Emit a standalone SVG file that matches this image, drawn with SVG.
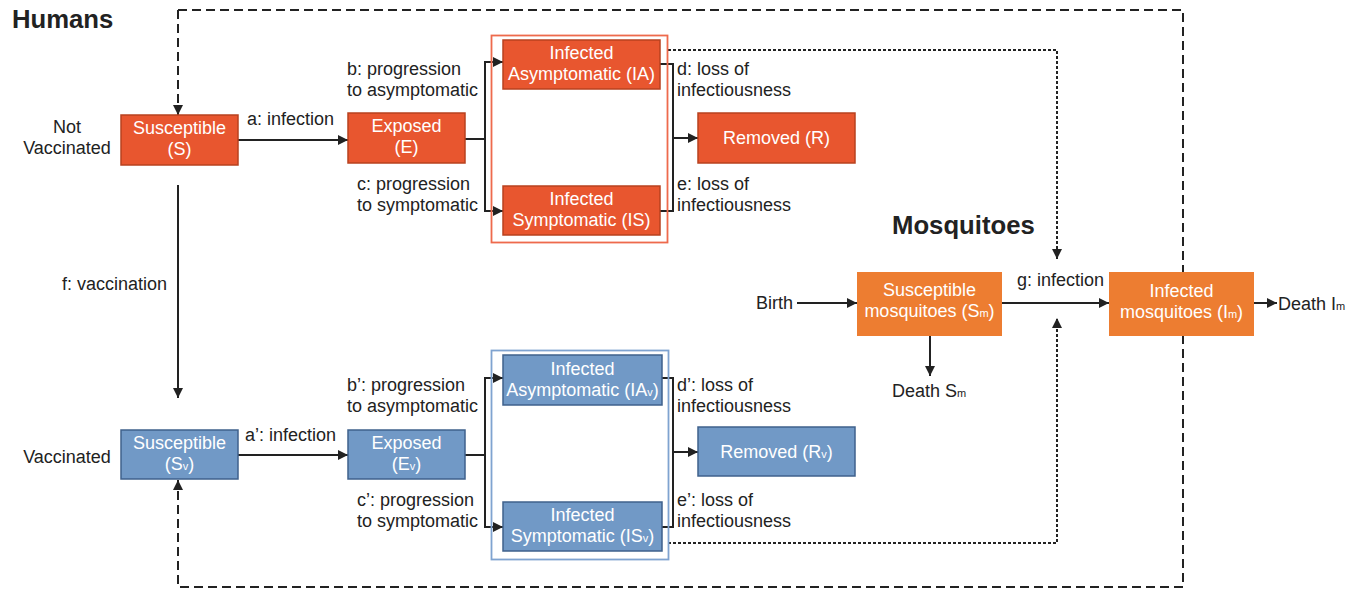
<svg xmlns="http://www.w3.org/2000/svg" width="1358" height="590" viewBox="0 0 1358 590">
<defs>
<marker id="ah" viewBox="0 0 10 10" refX="10" refY="5" markerWidth="10" markerHeight="10" markerUnits="userSpaceOnUse" orient="auto">
<path d="M0,0 L10,5 L0,10 z" fill="#222"/>
</marker>
</defs>
<style>
text{font-family:"Liberation Sans",Arial,sans-serif;font-size:18px;fill:#222}
.h{font-size:25.7px;font-weight:bold}
.w{fill:#fff;text-anchor:middle}
.m{text-anchor:middle}
.red{fill:#E8562F;stroke:#B8421F;stroke-width:1.5}
.blue{fill:#7199C6;stroke:#3F618C;stroke-width:1.5}
.org{fill:#ED7D31}
.c{fill:none;stroke:#222;stroke-width:2}
.dash{fill:none;stroke:#222;stroke-width:2;stroke-dasharray:9,5}
.dot{fill:none;stroke:#222;stroke-width:2;stroke-dasharray:3,2}
</style>
<rect width="1358" height="590" fill="#fff"/>
<g id="connectors">
<path class="dash" d="M178,10 H1183 V587 H178 V480" marker-end="url(#ah)"/>
<path class="dash" d="M178,10 V115" marker-end="url(#ah)"/>
<path class="dot" d="M668,50 H1057 V259" marker-end="url(#ah)"/>
<path class="dot" d="M668,543 H1057 V318" marker-end="url(#ah)"/>
<path class="c" d="M238,140 H348" marker-end="url(#ah)"/>
<path class="c" d="M465,139 H485"/>
<path class="c" d="M503,62 H485 V211 H503" marker-end="url(#ah)"/>
<path class="c" d="M485,62 H503" marker-end="url(#ah)"/>
<path class="c" d="M660,64 H673 V211 H660"/>
<path class="c" d="M673,138 H698" marker-end="url(#ah)"/>
<path class="c" d="M178,185 V398" marker-end="url(#ah)"/>
<path class="c" d="M238,455 H348" marker-end="url(#ah)"/>
<path class="c" d="M465,455 H485"/>
<path class="c" d="M503,378 H485 V527 H503" marker-end="url(#ah)"/>
<path class="c" d="M485,378 H503" marker-end="url(#ah)"/>
<path class="c" d="M662,378 H673 V527 H662"/>
<path class="c" d="M673,452 H698" marker-end="url(#ah)"/>
<path class="c" d="M797,303 H857" marker-end="url(#ah)"/>
<path class="c" d="M1002,303 H1109" marker-end="url(#ah)"/>
<path class="c" d="M1254,303 H1277" marker-end="url(#ah)"/>
<path class="c" d="M930,336 V376" marker-end="url(#ah)"/>
</g>
<g id="titles">
<text class="h" x="12" y="28">Humans</text>
<text class="h" x="892" y="234">Mosquitoes</text>
<text class="m" x="67" y="133">Not</text>
<text class="m" x="67" y="154">Vaccinated</text>
<text class="m" x="67" y="463">Vaccinated</text>
</g>
<g id="labels">
<text x="247" y="125">a: infection</text>
<text x="347" y="75">b: progression</text>
<text x="347" y="96">to asymptomatic</text>
<text x="357" y="190">c: progression</text>
<text x="357" y="211">to symptomatic</text>
<text x="677" y="75">d: loss of</text>
<text x="677" y="96">infectiousness</text>
<text x="677" y="190">e: loss of</text>
<text x="677" y="211">infectiousness</text>
<text x="62" y="290">f: vaccination</text>
<text x="245" y="441">a’: infection</text>
<text x="347" y="391">b’: progression</text>
<text x="347" y="412">to asymptomatic</text>
<text x="357" y="506">c’: progression</text>
<text x="357" y="527">to symptomatic</text>
<text x="677" y="391">d’: loss of</text>
<text x="677" y="412">infectiousness</text>
<text x="677" y="506">e’: loss of</text>
<text x="677" y="527">infectiousness</text>
<text x="756" y="309">Birth</text>
<text x="1017" y="286">g: infection</text>
<text x="1278" y="310">Death I<tspan font-size="11">m</tspan></text>
<text x="892" y="397">Death S<tspan font-size="11">m</tspan></text>
</g>
<g id="group-infected">
<rect x="491.5" y="35.5" width="176" height="207" fill="none" stroke="#EE6A4C" stroke-width="1.8"/>
</g>
<g id="group-infected-v">
<rect x="491.5" y="350.5" width="177" height="209" fill="none" stroke="#7FA3D0" stroke-width="1.8"/>
</g>
<g id="S">
<rect class="red" x="121" y="115" width="117" height="50"/>
<text class="w" x="179.5" y="134">Susceptible</text>
<text class="w" x="179.5" y="155">(S)</text>
</g>
<g id="E">
<rect class="red" x="348" y="113" width="117" height="50"/>
<text class="w" x="406.5" y="132">Exposed</text>
<text class="w" x="406.5" y="153">(E)</text>
</g>
<g id="IA">
<rect class="red" x="503" y="40" width="157" height="49"/>
<text class="w" x="581.5" y="59">Infected</text>
<text class="w" x="581.5" y="80">Asymptomatic (IA)</text>
</g>
<g id="IS">
<rect class="red" x="503" y="186" width="157" height="49"/>
<text class="w" x="581.5" y="205">Infected</text>
<text class="w" x="581.5" y="226">Symptomatic (IS)</text>
</g>
<g id="R">
<rect class="red" x="698" y="113" width="157" height="50"/>
<text class="w" x="776.5" y="144">Removed (R)</text>
</g>
<g id="Sv">
<rect class="blue" x="121" y="430" width="117" height="49"/>
<text class="w" x="179.5" y="449">Susceptible</text>
<text class="w" x="179.5" y="470">(S<tspan font-size="11">v</tspan>)</text>
</g>
<g id="Ev">
<rect class="blue" x="348" y="430" width="117" height="49"/>
<text class="w" x="406.5" y="449">Exposed</text>
<text class="w" x="406.5" y="470">(E<tspan font-size="11">v</tspan>)</text>
</g>
<g id="IAv">
<rect class="blue" x="503" y="355" width="159" height="50"/>
<text class="w" x="582.5" y="375">Infected</text>
<text class="w" x="582.5" y="396">Asymptomatic (IA<tspan font-size="11">v</tspan>)</text>
</g>
<g id="ISv">
<rect class="blue" x="503" y="502" width="159" height="49"/>
<text class="w" x="582.5" y="521">Infected</text>
<text class="w" x="582.5" y="542">Symptomatic (IS<tspan font-size="11">v</tspan>)</text>
</g>
<g id="Rv">
<rect class="blue" x="698" y="427" width="157" height="49"/>
<text class="w" x="776.5" y="458">Removed (R<tspan font-size="11">v</tspan>)</text>
</g>
<g id="Sm">
<rect class="org" x="857" y="272" width="145" height="64"/>
<text class="w" x="929.5" y="296">Susceptible</text>
<text class="w" x="929.5" y="317">mosquitoes (S<tspan font-size="11">m</tspan>)</text>
</g>
<g id="Im">
<rect class="org" x="1109" y="272" width="145" height="64"/>
<text class="w" x="1181.5" y="297">Infected</text>
<text class="w" x="1181.5" y="318">mosquitoes (I<tspan font-size="11">m</tspan>)</text>
</g>
</svg>
